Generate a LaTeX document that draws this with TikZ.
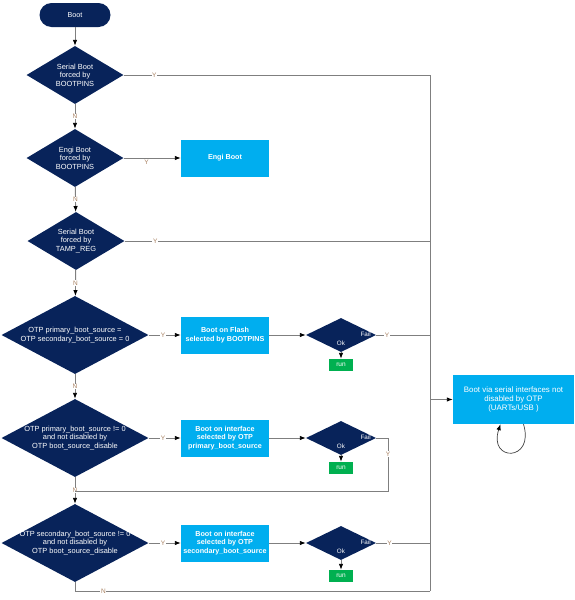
\documentclass[tikz,border=0pt]{standalone}
\usepackage{fontspec}
\setmainfont{Liberation Sans}
\usetikzlibrary{shapes.geometric,arrows.meta}
\definecolor{navy}{HTML}{08235A}
\definecolor{cyanbox}{HTML}{00AEEF}
\definecolor{runbox}{HTML}{00B050}
\definecolor{wire}{HTML}{7F7F7F}
\definecolor{yn}{HTML}{A88060}
\tikzset{
  decision/.style={diamond, fill=navy, inner sep=0pt, minimum width=97pt, minimum height=58pt},
  bigdecision/.style={diamond, fill=navy, inner sep=0pt, minimum width=147pt, minimum height=78pt},
  smalldecision/.style={diamond, fill=navy, inner sep=0pt, minimum width=70pt, minimum height=34pt},
  dtext/.style={text=white, align=center, font=\fontsize{7.4}{8.6}\selectfont},
  process/.style={rectangle, fill=cyanbox, text=white, align=center, minimum width=88pt, minimum height=37pt, inner sep=1pt, font=\fontsize{7.2}{8.8}\selectfont\bfseries},
  runnode/.style={rectangle, fill=runbox, text=white, minimum width=24pt, minimum height=12pt, inner sep=0pt, font=\fontsize{6.5}{7}\selectfont},
  small/.style={text=white, inner sep=0pt, font=\fontsize{6.3}{7}\selectfont},
  wireline/.style={draw=wire, line width=0.9pt},
  arrowline/.style={wireline, -{Latex[black,length=6pt,width=4.5pt]}},
  yn/.style={fill=white, text=yn, inner sep=0.6pt, font=\fontsize{6.5}{7}\selectfont}
}
\begin{document}
\begin{tikzpicture}[x=1pt,y=-1pt]
\useasboundingbox (0,0) rectangle (575,600);

% start
\node[rectangle, rounded corners=12pt, fill=navy, text=white, minimum width=71pt, minimum height=24pt, font=\fontsize{7.2}{8}\selectfont] (boot) at (75,15) {Boot};

% decisions
\node[decision, label={[dtext]center:Serial Boot\\forced by\\BOOTPINS}] (d1) at (75,75) {};
\node[decision, label={[dtext]center:Engi Boot\\forced by\\BOOTPINS}] (d2) at (75,158) {};
\node[decision, label={[dtext]center:Serial Boot\\forced by\\TAMP\_REG}] (d3) at (76,241) {};
\node[bigdecision, label={[dtext]center:OTP primary\_boot\_source =\\OTP secondary\_boot\_source = 0}] (d4) at (75,335) {};
\node[bigdecision, label={[dtext]center:OTP primary\_boot\_source != 0\\and not disabled by\\OTP boot\_source\_disable}] (d5) at (75,438) {};
\node[bigdecision, label={[dtext]center:OTP secondary\_boot\_source != 0\\and not disabled by\\OTP boot\_source\_disable}] (d6) at (75,543) {};

% process boxes
\node[process] (engi) at (225,158) {Engi Boot};
\node[process] (flash) at (225,335) {Boot on Flash\\selected by BOOTPINS};
\node[process] (p5) at (225,438) {Boot on interface\\selected by OTP\\primary\_boot\_source};
\node[process] (p6) at (225,543) {Boot on interface\\selected by OTP\\secondary\_boot\_source};
\node[process, minimum width=121pt, minimum height=49pt, font=\fontsize{7.9}{9.2}\selectfont] (uart) at (513.5,399.5) {Boot via serial interfaces not\\disabled by OTP\\(UARTs/USB )};

% small decisions
\node[smalldecision] (s1) at (341,335) {};
\node[smalldecision] (s2) at (341,438) {};
\node[smalldecision] (s3) at (341,543) {};
\foreach \s in {s1,s2,s3}{
  \node[small] (\s fail) at ([xshift=-10.5pt,yshift=0.5pt]\s.east) {Fail};
  \node[small] (\s ok) at ([yshift=-8.5pt]\s.center) {Ok};
}
\node[runnode] (r1) at (341,365) {run};
\node[runnode] (r2) at (341,468) {run};
\node[runnode] (r3) at (341,576) {run};

% collector coordinates
\coordinate (c1) at (430,75);
\coordinate (c3) at (430,241);
\coordinate (c4) at (430,335);
\coordinate (c6) at (430,543);
\coordinate (cin) at (430,399.5);
\coordinate (cbot) at (430,591);
\coordinate (s2r) at (388,438);
\coordinate (s2b) at (388,491);
\coordinate (j5) at (75,491);
\coordinate (d6b) at (75,591);

% main vertical chain
\draw[arrowline] (boot) -- (d1);
\draw[arrowline] (d1) -- node[yn, pos=0.5] (n1) {N} (d2);
\draw[arrowline] (d2) -- node[yn, pos=0.5] (n2) {N} (d3);
\draw[arrowline] (d3) -- node[yn, pos=0.5] (n3) {N} (d4);
\draw[arrowline] (d4) -- node[yn, pos=0.5] (n4) {N} (d5);
\draw[arrowline] (d5) -- node[yn, pos=0.5] (n5) {N} (d6);

% yes branches
\draw[wireline] (d1.east) -- node[yn, pos=0.1] (y1) {Y} (c1);
\draw[arrowline] (d2.east) -- (engi.west) node[yn, fill=none, pos=0.4, below=1pt] (y2) {Y};
\draw[wireline] (d3.east) -- node[yn, pos=0.1] (y3) {Y} (c3);
\draw[arrowline] (d4.east) -- node[yn, pos=0.45] (y4) {Y} (flash.west);
\draw[arrowline] (d5.east) -- node[yn, pos=0.45] (y5) {Y} (p5.west);
\draw[arrowline] (d6.east) -- node[yn, pos=0.45] (y6) {Y} (p6.west);

% process to checks
\draw[arrowline] (flash.east) -- (s1.west);
\draw[arrowline] (p5.east) -- (s2.west);
\draw[arrowline] (p6.east) -- (s3.west);
\draw[arrowline] (s1.south) -- (r1.north);
\draw[arrowline] (s2.south) -- (r2.north);
\draw[arrowline] (s3.south) -- (r3.north);

% fail branches
\draw[wireline] (s1.east) -- node[yn, pos=0.2] (y7) {Y} (c4);
\draw[wireline] (s2.east) -- (s2r) -- node[yn, pos=0.3] (y8) {Y} (s2b) -- (j5);
\draw[wireline] (s3.east) -- node[yn, pos=0.25] (y9) {Y} (c6);
\draw[wireline] (d6.south) -- (d6b) -- node[yn, pos=0.08] (n6) {N} (cbot);

% collector
\draw[wireline] (c1) -- (cbot);
\draw[arrowline] (cin) -- (uart.west);

% self loop
\draw[line width=0.7pt, draw=black!75, -{Latex[black,length=6pt,width=4.5pt]}] ([xshift=10pt]uart.south) .. controls (535,462) and (488,462) .. ([xshift=-13pt]uart.south);
\end{tikzpicture}
\end{document}
